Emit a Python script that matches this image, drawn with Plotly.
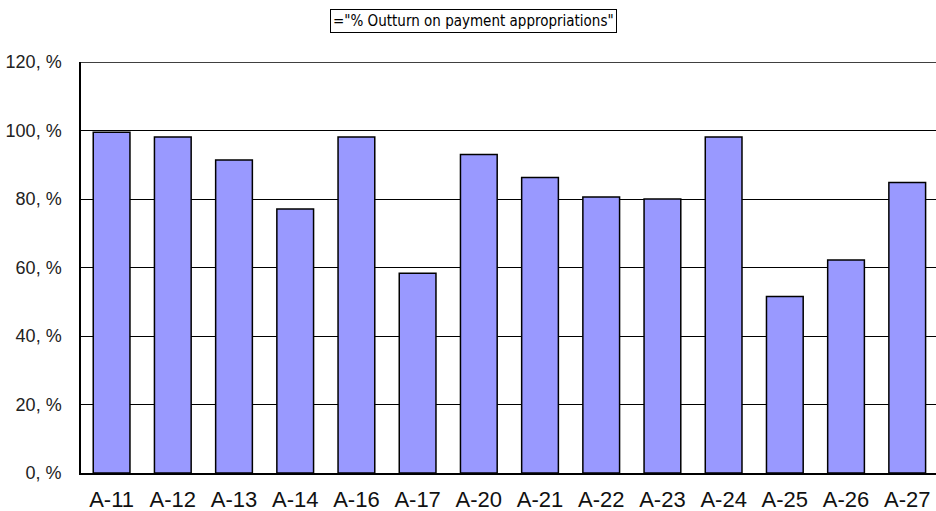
import plotly.graph_objects as go

categories = ["A-11", "A-12", "A-13", "A-14", "A-16", "A-17", "A-20",
              "A-21", "A-22", "A-23", "A-24", "A-25", "A-26", "A-27"]
outturn = [99.5, 98.1, 91.4, 77.1, 98.1, 58.3, 93.0,
           86.3, 80.6, 80.0, 98.1, 51.5, 62.2, 84.8]
y_ticks = [0, 20, 40, 60, 80, 100, 120]
y_tick_labels = [f"{v}, %" for v in y_ticks]
legend_text = '="% Outturn on payment appropriations"'

fig = go.Figure()
fig.add_trace(go.Bar(
    x=categories, y=outturn,
    marker=dict(color="#9999FF", line=dict(color="#000000", width=1.5)),
    showlegend=False,
))

fig.update_layout(
    width=936, height=511,
    margin=dict(l=81, r=0, t=62, b=38),
    paper_bgcolor="white", plot_bgcolor="white",
    bargap=0.4,
    font=dict(family="Liberation Sans, Arial, sans-serif", color="#000000"),
    xaxis=dict(
        range=[-0.5, 13.47],
        showline=True, linecolor="#000000", linewidth=1.5,
        showgrid=False, ticks="", tickfont=dict(size=22, color="#111111"),
        ticklabelstandoff=6,
    ),
    yaxis=dict(
        range=[0, 120],
        tickvals=y_ticks, ticktext=y_tick_labels,
        showline=True, linecolor="#000000", linewidth=1.5,
        showgrid=True, gridcolor="#000000", gridwidth=1.2,
        ticks="", tickfont=dict(size=18, color="#222222"),
        ticklabelstandoff=14, zeroline=False,
    ),
    shapes=[dict(type="line", xref="paper", yref="y", x0=0, x1=1, y0=120, y1=120,
                 line=dict(color="#000000", width=1.5))],
    annotations=[dict(
        text=legend_text, xref="paper", yref="paper",
        x=0.459, y=1.0, yanchor="bottom", xanchor="center", yshift=29,
        showarrow=False, font=dict(family="DejaVu Sans Condensed, DejaVu Sans, sans-serif",
                                   size=15, color="#000000"),
        bordercolor="#000000", borderwidth=1, borderpad=2, bgcolor="white",
    )],
)

fig.write_html("out.html")
